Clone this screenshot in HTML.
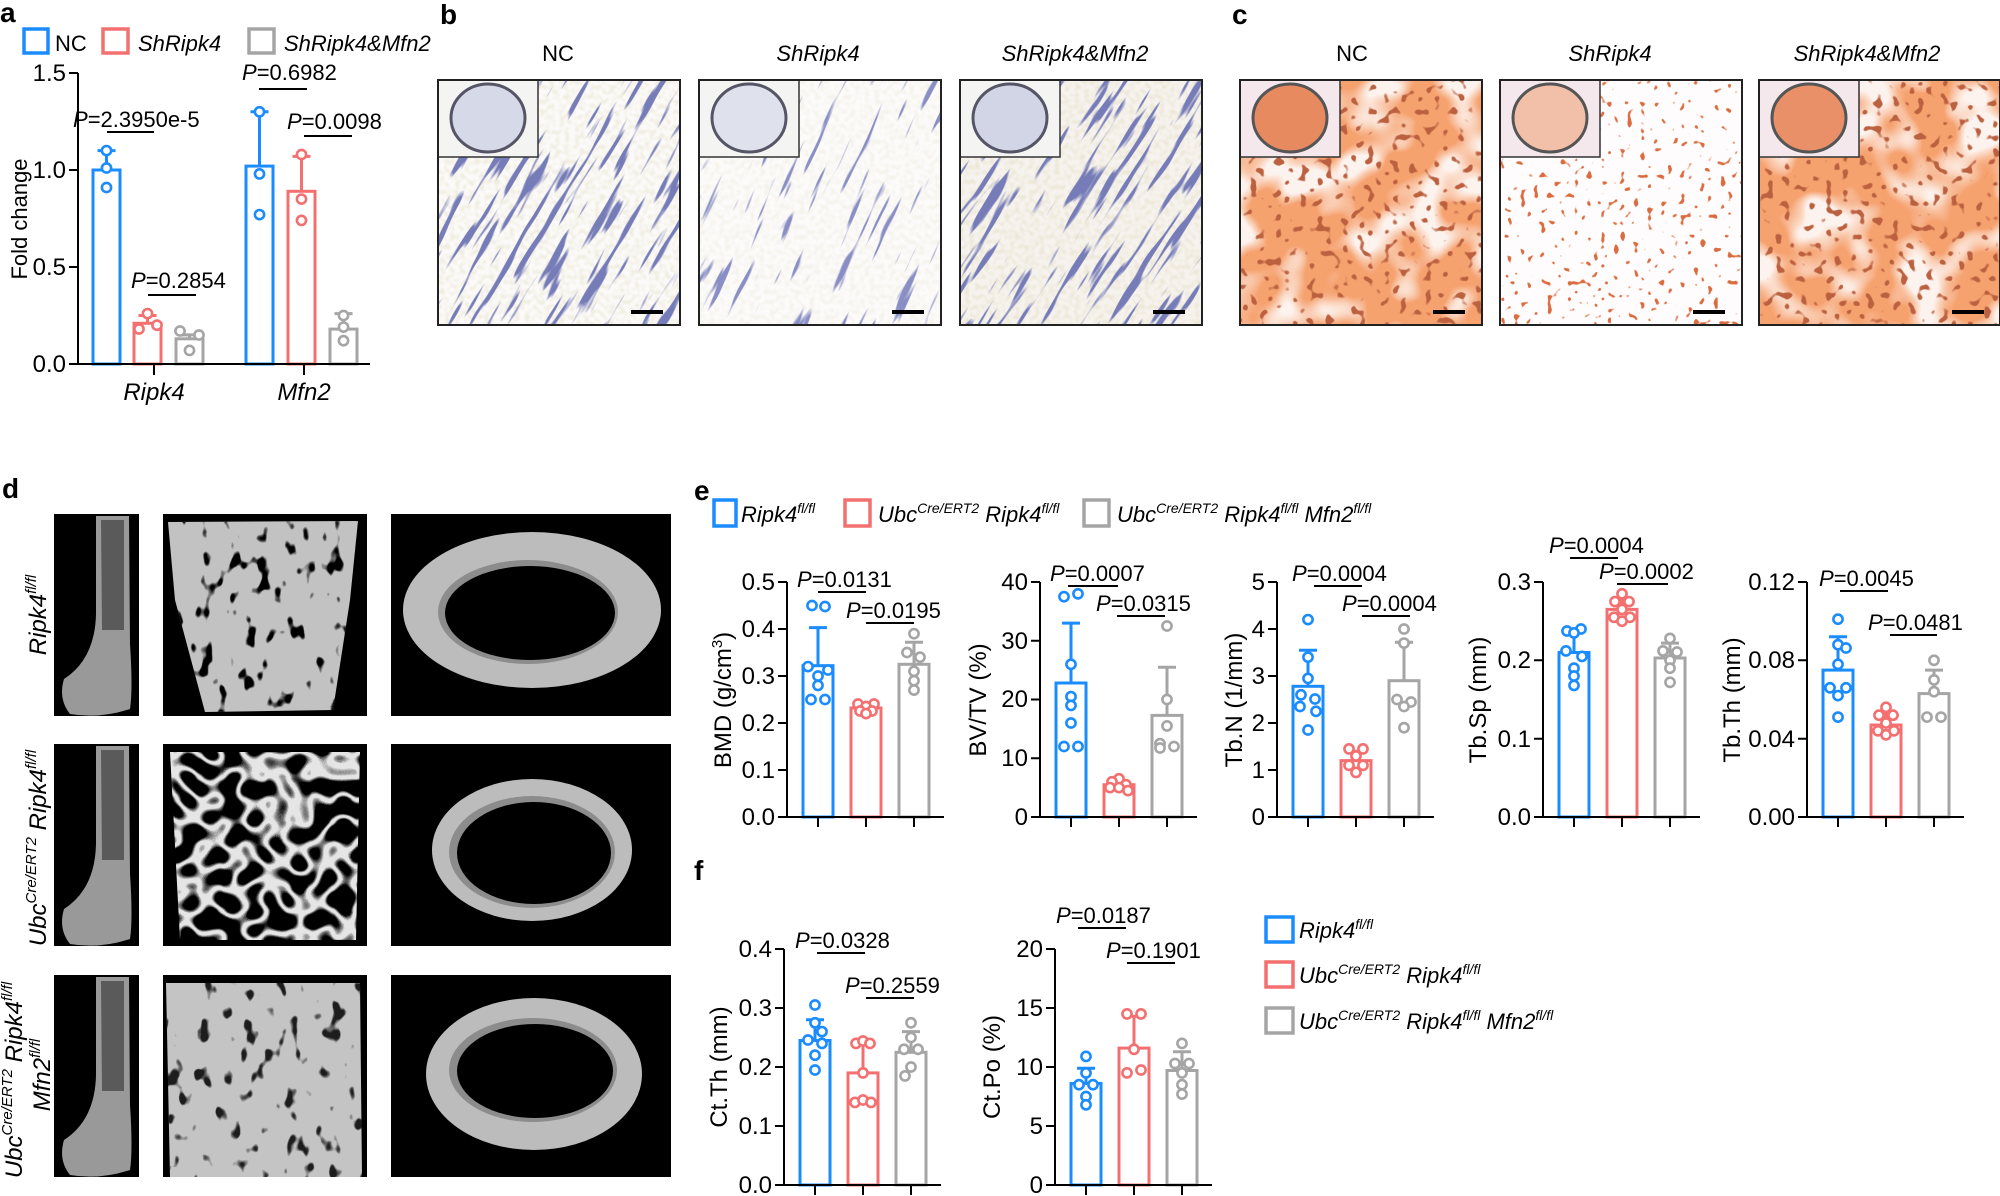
<!DOCTYPE html>
<html><head><meta charset="utf-8"><style>
html,body{margin:0;padding:0;background:#fff}
svg{display:block}
text{font-family:"Liberation Sans",Arial,sans-serif;fill:#000}
.it{font-style:italic}
.b{font-weight:bold}
.B{stroke:#1a8cff}.R{stroke:#f47070}.G{stroke:#a5a5a5}
.bar{fill:none;stroke-width:3}
.er{stroke-width:3}
.ax{stroke:#000;stroke-width:2;fill:none}
.d{fill:#fff;stroke-width:2.6}
</style></head><body>
<svg width="2000" height="1196" viewBox="0 0 2000 1196" xmlns="http://www.w3.org/2000/svg">
<defs>
<filter id="fb" x="0" y="0" width="100%" height="100%"><feTurbulence type="fractalNoise" baseFrequency="0.015 0.14" numOctaves="2" seed="3"/><feColorMatrix type="matrix" values="0 0 0 0 0.18 0 0 0 0 0.2 0 0 0 0 0.48 12 0 0 0 -6.9"/></filter>
<filter id="fbs" x="0" y="0" width="100%" height="100%"><feTurbulence type="fractalNoise" baseFrequency="0.015 0.14" numOctaves="2" seed="8"/><feColorMatrix type="matrix" values="0 0 0 0 0.25 0 0 0 0 0.27 0 0 0 0 0.55 12 0 0 0 -7.7"/></filter>
<filter id="fbg" x="0" y="0" width="100%" height="100%"><feTurbulence type="fractalNoise" baseFrequency="0.2" numOctaves="1" seed="5"/><feColorMatrix type="matrix" values="0 0 0 0 0.8 0 0 0 0 0.75 0 0 0 0 0.6 3 0 0 0 -1.2"/></filter>
<filter id="fo" x="0" y="0" width="100%" height="100%"><feTurbulence type="fractalNoise" baseFrequency="0.02" numOctaves="2" seed="11"/><feColorMatrix type="matrix" values="0 0 0 0 0.92 0 0 0 0 0.36 0 0 0 0 0.16 4.5 0 0 0 -1.5"/></filter>
<filter id="fd" x="0" y="0" width="100%" height="100%"><feTurbulence type="fractalNoise" baseFrequency="0.12" numOctaves="1" seed="4"/><feColorMatrix type="matrix" values="0 0 0 0 0.5 0 0 0 0 0.12 0 0 0 0 0.05 14 0 0 0 -8.4"/></filter>
<filter id="fds" x="0" y="0" width="100%" height="100%"><feTurbulence type="fractalNoise" baseFrequency="0.15" numOctaves="1" seed="9"/><feColorMatrix type="matrix" values="0 0 0 0 0.7 0 0 0 0 0.15 0 0 0 0 0.05 18 0 0 0 -11.6"/></filter>
<filter id="fh" x="0" y="0" width="100%" height="100%"><feTurbulence type="fractalNoise" baseFrequency="0.07 0.045" numOctaves="2" seed="2"/><feColorMatrix type="matrix" values="0 0 0 0 0 0 0 0 0 0 0 0 0 0 0 12 0 0 0 -7.4"/></filter>
<filter id="fn" x="0" y="0" width="100%" height="100%"><feTurbulence type="fractalNoise" baseFrequency="0.045" numOctaves="1" seed="6"/><feColorMatrix type="matrix" values="0 0 0 0 0.78 0 0 0 0 0.78 0 0 0 0 0.78 1 0 0 0 0"/><feComponentTransfer><feFuncA type="table" tableValues="0 0 0 0 0 0 0 1 1 0 0 0 0 0 0 0"/></feComponentTransfer></filter>
<clipPath id="t1"><polygon points="168,522 358,521 350,600 333,710 205,712 175,600"/></clipPath>
<clipPath id="t2"><polygon points="170,752 360,752 356,940 180,940"/></clipPath>
<clipPath id="t3"><polygon points="166,983 360,983 362,1177 170,1177"/></clipPath>
<clipPath id="cb1"><rect x="438" y="80" width="242" height="245"/></clipPath>
<clipPath id="cb2"><rect x="699" y="80" width="242" height="245"/></clipPath>
<clipPath id="cb3"><rect x="960" y="80" width="242" height="245"/></clipPath>
</defs>

<!-- panel letters -->
<text x="0" y="22" font-size="28" class="b">a</text>
<text x="440" y="24" font-size="28" class="b">b</text>
<text x="1232" y="24" font-size="28" class="b">c</text>
<text x="2" y="498" font-size="28" class="b">d</text>
<text x="694" y="500" font-size="28" class="b">e</text>
<text x="694" y="880" font-size="28" class="b">f</text>

<!-- panel a legend -->
<rect x="24" y="29" width="24" height="24" fill="none" stroke="#1a8cff" stroke-width="3.5"/>
<text x="55" y="51" font-size="22">NC</text>
<rect x="103" y="29" width="25" height="24" fill="none" stroke="#f47070" stroke-width="3.5"/>
<text x="138" y="51" font-size="22" class="it">ShRipk4</text>
<rect x="249" y="29" width="25" height="24" fill="none" stroke="#a5a5a5" stroke-width="3.5"/>
<text x="284" y="51" font-size="22" class="it">ShRipk4&amp;Mfn2</text>

<!-- panel a chart -->
<g>
<rect class="bar B" x="93" y="170" width="27" height="194"/>
<line class="er B" x1="106.5" y1="170" x2="106.5" y2="150.6"/><line class="er B" x1="97.5" y1="150.6" x2="115.5" y2="150.6"/>
<circle class="d B" cx="106.5" cy="150.6" r="4.6"/><circle class="d B" cx="106.5" cy="168" r="4.6"/><circle class="d B" cx="106.5" cy="187.5" r="4.6"/>
<rect class="bar R" x="134" y="323.3" width="27" height="40.7"/>
<line class="er R" x1="147.5" y1="323.3" x2="147.5" y2="315.5"/><line class="er R" x1="138.5" y1="315.5" x2="156.5" y2="315.5"/>
<circle class="d R" cx="139" cy="329" r="4.6"/><circle class="d R" cx="147.5" cy="313.6" r="4.6"/><circle class="d R" cx="157" cy="325.2" r="4.6"/>
<rect class="bar G" x="176" y="338.8" width="27" height="25.2"/>
<line class="er G" x1="189.5" y1="338.8" x2="189.5" y2="334.9"/><line class="er G" x1="180.5" y1="334.9" x2="198.5" y2="334.9"/>
<circle class="d G" cx="180" cy="331" r="4.6"/><circle class="d G" cx="199" cy="335" r="4.6"/><circle class="d G" cx="189.5" cy="350.4" r="4.6"/>
<rect class="bar B" x="246" y="166.1" width="27" height="197.9"/>
<line class="er B" x1="259.5" y1="166.1" x2="259.5" y2="111.8"/><line class="er B" x1="250.5" y1="111.8" x2="268.5" y2="111.8"/>
<circle class="d B" cx="259.5" cy="111.8" r="4.6"/><circle class="d B" cx="259.5" cy="173.9" r="4.6"/><circle class="d B" cx="259.5" cy="214.6" r="4.6"/>
<rect class="bar R" x="288" y="191.3" width="27" height="172.7"/>
<line class="er R" x1="301.5" y1="191.3" x2="301.5" y2="156.4"/><line class="er R" x1="292.5" y1="156.4" x2="310.5" y2="156.4"/>
<circle class="d R" cx="301.5" cy="154.5" r="4.6"/><circle class="d R" cx="301.5" cy="199.1" r="4.6"/><circle class="d R" cx="301.5" cy="220.4" r="4.6"/>
<rect class="bar G" x="330" y="329.1" width="27" height="34.9"/>
<line class="er G" x1="343.5" y1="329.1" x2="343.5" y2="313.6"/><line class="er G" x1="334.5" y1="313.6" x2="352.5" y2="313.6"/>
<circle class="d G" cx="343.5" cy="315.5" r="4.6"/><circle class="d G" cx="343.5" cy="327.1" r="4.6"/><circle class="d G" cx="343.5" cy="340.7" r="4.6"/>
<path class="ax" d="M78 73V364M69 364H370M154 364V375M304 364V375M69 73H78M69 170H78M69 267H78"/>
<g font-size="24" text-anchor="end"><text x="66" y="372">0.0</text><text x="66" y="275">0.5</text><text x="66" y="178">1.0</text><text x="66" y="81">1.5</text></g>
<text transform="translate(27,219) rotate(-90)" text-anchor="middle" font-size="22">Fold change</text>
<text x="154" y="400" font-size="24" text-anchor="middle" class="it">Ripk4</text>
<text x="304" y="400" font-size="24" text-anchor="middle" class="it">Mfn2</text>
<g font-size="22">
<text x="73" y="127"><tspan class="it">P</tspan>=2.3950e-5</text>
<text x="242" y="80"><tspan class="it">P</tspan>=0.6982</text>
<text x="287" y="129"><tspan class="it">P</tspan>=0.0098</text>
<text x="131" y="288"><tspan class="it">P</tspan>=0.2854</text>
</g>
<path class="ax" d="M107 132H154M259 89H307M304 136H352M148 295H196"/>
</g>

<!-- panel b/c titles -->
<g font-size="22" text-anchor="middle">
<text x="558" y="61">NC</text><text x="818" y="61" class="it">ShRipk4</text><text x="1075" y="61" class="it">ShRipk4&amp;Mfn2</text>
<text x="1352" y="61">NC</text><text x="1610" y="61" class="it">ShRipk4</text><text x="1867" y="61" class="it">ShRipk4&amp;Mfn2</text>
</g>

<!-- panel b images -->
<g>
<rect x="438" y="80" width="242" height="245" fill="#fbfaf8"/>
<rect x="438" y="80" width="242" height="245" filter="url(#fbg)" opacity="0.5"/>
<g clip-path="url(#cb1)"><rect x="380" y="20" width="360" height="360" filter="url(#fb)" transform="rotate(-60 559 202)"/></g>
<rect x="699" y="80" width="242" height="245" fill="#fcfbfa"/>
<rect x="699" y="80" width="242" height="245" filter="url(#fbg)" opacity="0.3"/>
<g clip-path="url(#cb2)"><rect x="640" y="20" width="360" height="360" filter="url(#fbs)" transform="rotate(-65 820 202)"/></g>
<rect x="960" y="80" width="242" height="245" fill="#f6f3ee"/>
<rect x="960" y="80" width="242" height="245" filter="url(#fbg)" opacity="0.6"/>
<g clip-path="url(#cb3)"><rect x="900" y="20" width="360" height="360" filter="url(#fb)" transform="rotate(-58 1081 202)"/></g>
</g>
<!-- panel c images -->
<g>
<rect x="1240" y="80" width="242" height="245" fill="#fdf3ee"/>
<rect x="1240" y="80" width="242" height="245" filter="url(#fo)"/>
<rect x="1240" y="80" width="242" height="245" filter="url(#fd)"/>
<rect x="1500" y="80" width="242" height="245" fill="#fefcfc"/>
<rect x="1500" y="80" width="242" height="245" filter="url(#fds)"/>
<rect x="1759" y="80" width="241" height="245" fill="#fdf3ee"/>
<rect x="1759" y="80" width="241" height="245" filter="url(#fo)"/>
<rect x="1759" y="80" width="241" height="245" filter="url(#fd)"/>
</g>
<!-- insets and frames -->
<g stroke="#333" stroke-width="1.5">
<rect x="438" y="80" width="100" height="77" fill="#f4f5f3"/><ellipse cx="488" cy="118" rx="37" ry="34" fill="#d6d9e8" stroke="#556" stroke-width="3"/>
<rect x="699" y="80" width="100" height="77" fill="#f4f5f3"/><ellipse cx="749" cy="118" rx="37" ry="34" fill="#dfe1ec" stroke="#556" stroke-width="3"/>
<rect x="960" y="80" width="100" height="77" fill="#f4f5f3"/><ellipse cx="1010" cy="118" rx="37" ry="34" fill="#d2d5e6" stroke="#556" stroke-width="3"/>
<rect x="1240" y="80" width="100" height="77" fill="#f4e8ec"/><ellipse cx="1290" cy="118" rx="37" ry="34" fill="#e88a60" stroke="#555" stroke-width="3"/>
<rect x="1500" y="80" width="100" height="77" fill="#f4e8ec"/><ellipse cx="1550" cy="118" rx="37" ry="34" fill="#f2c0a8" stroke="#555" stroke-width="3"/>
<rect x="1759" y="80" width="100" height="77" fill="#f4e8ec"/><ellipse cx="1809" cy="118" rx="37" ry="34" fill="#ea9068" stroke="#555" stroke-width="3"/>
</g>
<g fill="none" stroke="#222" stroke-width="2">
<rect x="438" y="80" width="242" height="245"/><rect x="699" y="80" width="242" height="245"/><rect x="960" y="80" width="242" height="245"/>
<rect x="1240" y="80" width="242" height="245"/><rect x="1500" y="80" width="242" height="245"/><rect x="1759" y="80" width="241" height="245"/>
</g>
<g fill="#000">
<rect x="631" y="310" width="32" height="4"/><rect x="892" y="310" width="32" height="4"/><rect x="1153" y="310" width="32" height="4"/>
<rect x="1433" y="310" width="32" height="4"/><rect x="1693" y="310" width="32" height="4"/><rect x="1952" y="310" width="32" height="4"/>
</g>

<!-- panel d -->
<g fill="#000">
<rect x="54" y="514" width="85" height="202"/><rect x="163" y="514" width="204" height="202"/><rect x="391" y="514" width="280" height="202"/>
<rect x="54" y="744" width="85" height="202"/><rect x="163" y="744" width="204" height="202"/><rect x="391" y="744" width="280" height="202"/>
<rect x="54" y="975" width="85" height="202"/><rect x="163" y="975" width="204" height="202"/><rect x="391" y="975" width="280" height="202"/>
</g>
<!-- femurs -->
<g>
<path d="M96 516 L129 516 L130 644 Q133 689 130 709 Q100 719 70 714 Q58 699 64 679 Q95 659 96 614 Z" fill="#999"/>
<path d="M101 520 L124 520 L124 630 L102 630 Z" fill="#5a5a5a"/>
<path d="M96 746 L129 746 L130 874 Q133 919 130 939 Q100 949 70 944 Q58 929 64 909 Q95 889 96 844 Z" fill="#999"/>
<path d="M101 750 L124 750 L124 860 L102 860 Z" fill="#5a5a5a"/>
<path d="M96 977 L129 977 L130 1105 Q133 1150 130 1170 Q100 1180 70 1175 Q58 1160 64 1140 Q95 1120 96 1075 Z" fill="#999"/>
<path d="M101 981 L124 981 L124 1091 L102 1091 Z" fill="#5a5a5a"/>
</g>
<!-- trabecular -->
<g clip-path="url(#t1)"><rect x="163" y="514" width="204" height="202" fill="#c2c2c2"/><rect x="163" y="514" width="204" height="202" filter="url(#fh)"/></g>
<g clip-path="url(#t2)"><rect x="163" y="744" width="204" height="202" filter="url(#fn)"/></g>
<g clip-path="url(#t3)"><rect x="163" y="975" width="204" height="202" fill="#c4c4c4"/><rect x="163" y="975" width="204" height="202" filter="url(#fh)" opacity="0.85"/></g>
<!-- cross sections -->
<g>
<ellipse cx="532" cy="610" rx="129" ry="78" fill="#bcbcbc"/><ellipse cx="528" cy="612" rx="90" ry="52" fill="#8c8c8c"/><ellipse cx="530" cy="613" rx="85" ry="47" fill="#000"/>
<ellipse cx="532" cy="850" rx="100" ry="71" fill="#bcbcbc"/><ellipse cx="532" cy="852" rx="83" ry="56" fill="#8c8c8c"/><ellipse cx="534" cy="853" rx="77" ry="51" fill="#000"/>
<ellipse cx="534" cy="1074" rx="108" ry="76" fill="#bcbcbc"/><ellipse cx="533" cy="1070" rx="84" ry="52" fill="#8c8c8c"/><ellipse cx="535" cy="1071" rx="78" ry="47" fill="#000"/>
</g>
<!-- d row labels -->
<g font-size="24" class="it">
<text transform="translate(46,615) rotate(-90)" text-anchor="middle">Ripk4<tspan font-size="15" dy="-10">fl/fl</tspan></text>
<text transform="translate(46,848) rotate(-90)" text-anchor="middle">Ubc<tspan font-size="15" dy="-10">Cre/ERT2</tspan><tspan dy="10"> Ripk4</tspan><tspan font-size="15" dy="-10">fl/fl</tspan></text>
<text transform="translate(22,1080) rotate(-90)" text-anchor="middle">Ubc<tspan font-size="15" dy="-10">Cre/ERT2</tspan><tspan dy="10"> Ripk4</tspan><tspan font-size="15" dy="-10">fl/fl</tspan></text>
<text transform="translate(50,1075) rotate(-90)" text-anchor="middle">Mfn2<tspan font-size="15" dy="-10">fl/fl</tspan></text>
</g>

<!-- e legend -->
<g font-size="22">
<rect x="714" y="500" width="22" height="26" fill="none" stroke="#1a8cff" stroke-width="3.5"/>
<text x="741" y="522" class="it">Ripk4<tspan font-size="14" dy="-9">fl/fl</tspan></text>
<rect x="845" y="500" width="25" height="26" fill="none" stroke="#f47070" stroke-width="3.5"/>
<text x="878" y="522" class="it">Ubc<tspan font-size="14" dy="-9">Cre/ERT2</tspan><tspan dy="9"> Ripk4</tspan><tspan font-size="14" dy="-9">fl/fl</tspan></text>
<rect x="1084" y="500" width="25" height="26" fill="none" stroke="#a5a5a5" stroke-width="3.5"/>
<text x="1117" y="522" class="it">Ubc<tspan font-size="14" dy="-9">Cre/ERT2</tspan><tspan dy="9"> Ripk4</tspan><tspan font-size="14" dy="-9">fl/fl</tspan><tspan dy="9"> Mfn2</tspan><tspan font-size="14" dy="-9">fl/fl</tspan></text>
</g>

<!-- BMD -->
<g>
<rect class="bar B" x="803" y="665.7" width="30" height="151.3"/><line class="er B" x1="818" y1="665.7" x2="818" y2="627.6"/><line class="er B" x1="809" y1="627.6" x2="827" y2="627.6"/>
<rect class="bar R" x="851" y="708" width="30" height="109"/><line class="er R" x1="866" y1="708" x2="866" y2="703.3"/><line class="er R" x1="857" y1="703.3" x2="875" y2="703.3"/>
<rect class="bar G" x="899" y="664.3" width="30" height="152.7"/><line class="er G" x1="914" y1="664.3" x2="914" y2="642.2"/><line class="er G" x1="905" y1="642.2" x2="923" y2="642.2"/>
<g class="B"><circle class="d" cx="812" cy="605.5" r="4.6"/><circle class="d" cx="825" cy="606.5" r="4.6"/><circle class="d" cx="808" cy="666.6" r="4.6"/><circle class="d" cx="828" cy="670" r="4.6"/><circle class="d" cx="818" cy="676" r="4.6"/><circle class="d" cx="818" cy="685.4" r="4.6"/><circle class="d" cx="811" cy="699.5" r="4.6"/><circle class="d" cx="825" cy="699.5" r="4.6"/></g>
<g class="R"><circle class="d" cx="858" cy="704" r="4.6"/><circle class="d" cx="874" cy="704" r="4.6"/><circle class="d" cx="866" cy="706.5" r="4.6"/><circle class="d" cx="860" cy="711" r="4.6"/><circle class="d" cx="872" cy="711" r="4.6"/><circle class="d" cx="866" cy="713.6" r="4.6"/></g>
<g class="G"><circle class="d" cx="914" cy="633.7" r="4.6"/><circle class="d" cx="907" cy="652.5" r="4.6"/><circle class="d" cx="920" cy="657.2" r="4.6"/><circle class="d" cx="914" cy="671.3" r="4.6"/><circle class="d" cx="914" cy="680.7" r="4.6"/><circle class="d" cx="914" cy="690.1" r="4.6"/></g>
<path class="ax" d="M787 582V817M778 817H944M818 817V827M866 817V827M914 817V827M778 770H787M778 723H787M778 676H787M778 629H787M778 582H787"/>
<g font-size="24" text-anchor="end"><text x="775" y="825">0.0</text><text x="775" y="778">0.1</text><text x="775" y="731">0.2</text><text x="775" y="684">0.3</text><text x="775" y="637">0.4</text><text x="775" y="590">0.5</text></g>
<text transform="translate(731,700) rotate(-90)" text-anchor="middle" font-size="24">BMD (g/cm<tspan font-size="15" dy="-9">3</tspan><tspan dy="9">)</tspan></text>
</g>
<!-- BV/TV -->
<g>
<rect class="bar B" x="1056" y="683" width="30" height="134"/><line class="er B" x1="1071" y1="683" x2="1071" y2="623.1"/><line class="er B" x1="1062" y1="623.1" x2="1080" y2="623.1"/>
<rect class="bar R" x="1104" y="784.7" width="30" height="32.3"/><line class="er R" x1="1119" y1="784.7" x2="1119" y2="780.6"/><line class="er R" x1="1110" y1="780.6" x2="1128" y2="780.6"/>
<rect class="bar G" x="1152" y="715.4" width="30" height="101.6"/><line class="er G" x1="1167" y1="715.4" x2="1167" y2="667.2"/><line class="er G" x1="1158" y1="667.2" x2="1176" y2="667.2"/>
<g class="B"><circle class="d" cx="1064" cy="596.7" r="4.6"/><circle class="d" cx="1078" cy="593.8" r="4.6"/><circle class="d" cx="1071" cy="664.3" r="4.6"/><circle class="d" cx="1071" cy="696.6" r="4.6"/><circle class="d" cx="1071" cy="705.4" r="4.6"/><circle class="d" cx="1071" cy="723" r="4.6"/><circle class="d" cx="1064" cy="746.5" r="4.6"/><circle class="d" cx="1078" cy="746.5" r="4.6"/></g>
<g class="R"><circle class="d" cx="1119" cy="778.8" r="4.6"/><circle class="d" cx="1112" cy="781.8" r="4.6"/><circle class="d" cx="1126" cy="784.7" r="4.6"/><circle class="d" cx="1110" cy="787.6" r="4.6"/><circle class="d" cx="1119" cy="787.6" r="4.6"/><circle class="d" cx="1128" cy="790.6" r="4.6"/></g>
<g class="G"><circle class="d" cx="1167" cy="626" r="4.6"/><circle class="d" cx="1167" cy="699.5" r="4.6"/><circle class="d" cx="1167" cy="725.9" r="4.6"/><circle class="d" cx="1160" cy="743.6" r="4.6"/><circle class="d" cx="1174" cy="746.5" r="4.6"/><circle class="d" cx="1160" cy="748" r="4.6"/></g>
<path class="ax" d="M1040 582V817M1031 817H1197M1071 817V827M1119 817V827M1167 817V827M1031 758.3H1040M1031 699.5H1040M1031 640.8H1040M1031 582H1040"/>
<g font-size="24" text-anchor="end"><text x="1028" y="825">0</text><text x="1028" y="766">10</text><text x="1028" y="707">20</text><text x="1028" y="649">30</text><text x="1028" y="590">40</text></g>
<text transform="translate(986,700) rotate(-90)" text-anchor="middle" font-size="24">BV/TV (%)</text>
</g>
<!-- Tb.N -->
<g>
<rect class="bar B" x="1293" y="686.3" width="30" height="130.7"/><line class="er B" x1="1308" y1="686.3" x2="1308" y2="650.2"/><line class="er B" x1="1299" y1="650.2" x2="1317" y2="650.2"/>
<rect class="bar R" x="1341" y="760.6" width="30" height="56.4"/><line class="er R" x1="1356" y1="760.6" x2="1356" y2="751.2"/><line class="er R" x1="1347" y1="751.2" x2="1365" y2="751.2"/>
<rect class="bar G" x="1389" y="680.7" width="30" height="136.3"/><line class="er G" x1="1404" y1="680.7" x2="1404" y2="642.2"/><line class="er G" x1="1395" y1="642.2" x2="1413" y2="642.2"/>
<g class="B"><circle class="d" cx="1308" cy="619.6" r="4.6"/><circle class="d" cx="1308" cy="657.2" r="4.6"/><circle class="d" cx="1308" cy="678.4" r="4.6"/><circle class="d" cx="1301" cy="694.8" r="4.6"/><circle class="d" cx="1315" cy="699" r="4.6"/><circle class="d" cx="1300" cy="706.5" r="4.6"/><circle class="d" cx="1316" cy="711.3" r="4.6"/><circle class="d" cx="1308" cy="730" r="4.6"/></g>
<g class="R"><circle class="d" cx="1349" cy="748.9" r="4.6"/><circle class="d" cx="1363" cy="748.9" r="4.6"/><circle class="d" cx="1356" cy="755.9" r="4.6"/><circle class="d" cx="1349" cy="765.3" r="4.6"/><circle class="d" cx="1363" cy="765.3" r="4.6"/><circle class="d" cx="1356" cy="772.4" r="4.6"/></g>
<g class="G"><circle class="d" cx="1404" cy="629" r="4.6"/><circle class="d" cx="1404" cy="643.1" r="4.6"/><circle class="d" cx="1397" cy="699.5" r="4.6"/><circle class="d" cx="1411" cy="702" r="4.6"/><circle class="d" cx="1404" cy="706.5" r="4.6"/><circle class="d" cx="1404" cy="727.7" r="4.6"/></g>
<path class="ax" d="M1277 582V817M1268 817H1434M1308 817V827M1356 817V827M1404 817V827M1268 770H1277M1268 723H1277M1268 676H1277M1268 629H1277M1268 582H1277"/>
<g font-size="24" text-anchor="end"><text x="1265" y="825">0</text><text x="1265" y="778">1</text><text x="1265" y="731">2</text><text x="1265" y="684">3</text><text x="1265" y="637">4</text><text x="1265" y="590">5</text></g>
<text transform="translate(1242,700) rotate(-90)" text-anchor="middle" font-size="24">Tb.N (1/mm)</text>
</g>
<!-- Tb.Sp -->
<g>
<rect class="bar B" x="1559" y="652.5" width="30" height="164.5"/><line class="er B" x1="1574" y1="652.5" x2="1574" y2="631.4"/><line class="er B" x1="1565" y1="631.4" x2="1583" y2="631.4"/>
<rect class="bar R" x="1607" y="609.4" width="30" height="207.6"/><line class="er R" x1="1622" y1="609.4" x2="1622" y2="597.7"/><line class="er R" x1="1613" y1="597.7" x2="1631" y2="597.7"/>
<rect class="bar G" x="1655" y="658" width="30" height="159"/><line class="er G" x1="1670" y1="658" x2="1670" y2="643.1"/><line class="er G" x1="1661" y1="643.1" x2="1679" y2="643.1"/>
<g class="B"><circle class="d" cx="1567" cy="631" r="4.6"/><circle class="d" cx="1581" cy="629" r="4.6"/><circle class="d" cx="1574" cy="632.9" r="4.6"/><circle class="d" cx="1566" cy="650.9" r="4.6"/><circle class="d" cx="1582" cy="656.4" r="4.6"/><circle class="d" cx="1574" cy="668.2" r="4.6"/><circle class="d" cx="1574" cy="676" r="4.6"/><circle class="d" cx="1574" cy="685.4" r="4.6"/></g>
<g class="R"><circle class="d" cx="1622" cy="593.8" r="4.6"/><circle class="d" cx="1615" cy="601.6" r="4.6"/><circle class="d" cx="1629" cy="601.6" r="4.6"/><circle class="d" cx="1622" cy="609.4" r="4.6"/><circle class="d" cx="1614" cy="617.3" r="4.6"/><circle class="d" cx="1630" cy="617.3" r="4.6"/><circle class="d" cx="1622" cy="621.2" r="4.6"/></g>
<g class="G"><circle class="d" cx="1670" cy="638.4" r="4.6"/><circle class="d" cx="1663" cy="650.9" r="4.6"/><circle class="d" cx="1677" cy="652" r="4.6"/><circle class="d" cx="1670" cy="660.3" r="4.6"/><circle class="d" cx="1670" cy="668.2" r="4.6"/><circle class="d" cx="1670" cy="682.3" r="4.6"/></g>
<path class="ax" d="M1543 582V817M1534 817H1700M1574 817V827M1622 817V827M1670 817V827M1534 738.7H1543M1534 660.3H1543M1534 582H1543"/>
<g font-size="24" text-anchor="end"><text x="1531" y="825">0.0</text><text x="1531" y="747">0.1</text><text x="1531" y="668">0.2</text><text x="1531" y="590">0.3</text></g>
<text transform="translate(1486,700) rotate(-90)" text-anchor="middle" font-size="24">Tb.Sp (mm)</text>
</g>
<!-- Tb.Th -->
<g>
<rect class="bar B" x="1823" y="670.1" width="30" height="146.9"/><line class="er B" x1="1838" y1="670.1" x2="1838" y2="636.8"/><line class="er B" x1="1829" y1="636.8" x2="1847" y2="636.8"/>
<rect class="bar R" x="1871" y="725" width="30" height="92"/><line class="er R" x1="1886" y1="725" x2="1886" y2="713.2"/><line class="er R" x1="1877" y1="713.2" x2="1895" y2="713.2"/>
<rect class="bar G" x="1919" y="693.6" width="30" height="123.4"/><line class="er G" x1="1934" y1="693.6" x2="1934" y2="670.1"/><line class="er G" x1="1925" y1="670.1" x2="1943" y2="670.1"/>
<g class="B"><circle class="d" cx="1838" cy="619.2" r="4.6"/><circle class="d" cx="1838" cy="644.7" r="4.6"/><circle class="d" cx="1846" cy="648" r="4.6"/><circle class="d" cx="1838" cy="664.3" r="4.6"/><circle class="d" cx="1830" cy="687.8" r="4.6"/><circle class="d" cx="1846" cy="687.8" r="4.6"/><circle class="d" cx="1838" cy="695.6" r="4.6"/><circle class="d" cx="1838" cy="717.1" r="4.6"/></g>
<g class="R"><circle class="d" cx="1886" cy="707.3" r="4.6"/><circle class="d" cx="1879" cy="715.2" r="4.6"/><circle class="d" cx="1893" cy="715.2" r="4.6"/><circle class="d" cx="1886" cy="723" r="4.6"/><circle class="d" cx="1878" cy="730.8" r="4.6"/><circle class="d" cx="1894" cy="730.8" r="4.6"/><circle class="d" cx="1886" cy="734.8" r="4.6"/></g>
<g class="G"><circle class="d" cx="1934" cy="660.3" r="4.6"/><circle class="d" cx="1934" cy="679.9" r="4.6"/><circle class="d" cx="1934" cy="691.7" r="4.6"/><circle class="d" cx="1927" cy="717.1" r="4.6"/><circle class="d" cx="1941" cy="717.1" r="4.6"/></g>
<path class="ax" d="M1807 582V817M1798 817H1964M1838 817V827M1886 817V827M1934 817V827M1798 738.7H1807M1798 660.3H1807M1798 582H1807"/>
<g font-size="24" text-anchor="end"><text x="1795" y="825">0.00</text><text x="1795" y="747">0.04</text><text x="1795" y="668">0.08</text><text x="1795" y="590">0.12</text></g>
<text transform="translate(1740,700) rotate(-90)" text-anchor="middle" font-size="24">Tb.Th (mm)</text>
</g>
<!-- e p-values -->
<g font-size="22">
<text x="797" y="587"><tspan class="it">P</tspan>=0.0131</text><text x="846" y="618"><tspan class="it">P</tspan>=0.0195</text>
<text x="1050" y="581"><tspan class="it">P</tspan>=0.0007</text><text x="1096" y="611"><tspan class="it">P</tspan>=0.0315</text>
<text x="1292" y="581"><tspan class="it">P</tspan>=0.0004</text><text x="1342" y="611"><tspan class="it">P</tspan>=0.0004</text>
<text x="1549" y="553"><tspan class="it">P</tspan>=0.0004</text><text x="1599" y="579"><tspan class="it">P</tspan>=0.0002</text>
<text x="1819" y="586"><tspan class="it">P</tspan>=0.0045</text><text x="1868" y="630"><tspan class="it">P</tspan>=0.0481</text>
</g>
<path class="ax" d="M818 592H866M866 623H914M1068 586H1118M1117 616H1165M1314 586H1362M1362 616H1410M1570 558H1618M1617 584H1668M1840 591H1888M1890 635H1937"/>

<!-- panel f: Ct.Th -->
<g>
<rect class="bar B" x="800" y="1040.5" width="30" height="144.5"/><line class="er B" x1="815" y1="1040.5" x2="815" y2="1019.8"/><line class="er B" x1="806" y1="1019.8" x2="824" y2="1019.8"/>
<rect class="bar R" x="848" y="1072.9" width="30" height="112.1"/><line class="er R" x1="863" y1="1072.9" x2="863" y2="1043.4"/><line class="er R" x1="854" y1="1043.4" x2="872" y2="1043.4"/>
<rect class="bar G" x="896" y="1052.3" width="30" height="132.7"/><line class="er G" x1="911" y1="1052.3" x2="911" y2="1031.6"/><line class="er G" x1="902" y1="1031.6" x2="920" y2="1031.6"/>
<g class="B"><circle class="d" cx="815" cy="1005" r="4.6"/><circle class="d" cx="815" cy="1022.8" r="4.6"/><circle class="d" cx="822" cy="1031.6" r="4.6"/><circle class="d" cx="808" cy="1040" r="4.6"/><circle class="d" cx="822" cy="1043.4" r="4.6"/><circle class="d" cx="815" cy="1055.2" r="4.6"/><circle class="d" cx="815" cy="1070" r="4.6"/></g>
<g class="R"><circle class="d" cx="856" cy="1043.4" r="4.6"/><circle class="d" cx="863" cy="1041" r="4.6"/><circle class="d" cx="870" cy="1043.4" r="4.6"/><circle class="d" cx="863" cy="1072.9" r="4.6"/><circle class="d" cx="855" cy="1102.4" r="4.6"/><circle class="d" cx="863" cy="1100" r="4.6"/><circle class="d" cx="871" cy="1102.4" r="4.6"/></g>
<g class="G"><circle class="d" cx="911" cy="1022.8" r="4.6"/><circle class="d" cx="911" cy="1037.5" r="4.6"/><circle class="d" cx="904" cy="1049.3" r="4.6"/><circle class="d" cx="918" cy="1049.3" r="4.6"/><circle class="d" cx="911" cy="1067" r="4.6"/><circle class="d" cx="905" cy="1075.9" r="4.6"/></g>
<path class="ax" d="M784 949V1185M775 1185H941M815 1185V1195M863 1185V1195M911 1185V1195M775 1126H784M775 1067H784M775 1008H784M775 949H784"/>
<g font-size="24" text-anchor="end"><text x="772" y="1193">0.0</text><text x="772" y="1134">0.1</text><text x="772" y="1075">0.2</text><text x="772" y="1016">0.3</text><text x="772" y="957">0.4</text></g>
<text transform="translate(727,1067) rotate(-90)" text-anchor="middle" font-size="24">Ct.Th (mm)</text>
</g>
<!-- Ct.Po -->
<g>
<rect class="bar B" x="1071" y="1083.5" width="30" height="101.5"/><line class="er B" x1="1086" y1="1083.5" x2="1086" y2="1068.2"/><line class="er B" x1="1077" y1="1068.2" x2="1095" y2="1068.2"/>
<rect class="bar R" x="1119" y="1048.1" width="30" height="136.9"/><line class="er R" x1="1134" y1="1048.1" x2="1134" y2="1016.3"/><line class="er R" x1="1125" y1="1016.3" x2="1143" y2="1016.3"/>
<rect class="bar G" x="1167" y="1070.5" width="30" height="114.5"/><line class="er G" x1="1182" y1="1070.5" x2="1182" y2="1051.7"/><line class="er G" x1="1173" y1="1051.7" x2="1191" y2="1051.7"/>
<g class="B"><circle class="d" cx="1086" cy="1056.4" r="4.6"/><circle class="d" cx="1086" cy="1072.9" r="4.6"/><circle class="d" cx="1079" cy="1084.7" r="4.6"/><circle class="d" cx="1093" cy="1084.7" r="4.6"/><circle class="d" cx="1086" cy="1096.5" r="4.6"/><circle class="d" cx="1086" cy="1104.8" r="4.6"/></g>
<g class="R"><circle class="d" cx="1127" cy="1013.9" r="4.6"/><circle class="d" cx="1141" cy="1013.9" r="4.6"/><circle class="d" cx="1134" cy="1049.3" r="4.6"/><circle class="d" cx="1127" cy="1072.9" r="4.6"/><circle class="d" cx="1141" cy="1070" r="4.6"/></g>
<g class="G"><circle class="d" cx="1182" cy="1043.4" r="4.6"/><circle class="d" cx="1175" cy="1063.5" r="4.6"/><circle class="d" cx="1189" cy="1063.5" r="4.6"/><circle class="d" cx="1182" cy="1072.9" r="4.6"/><circle class="d" cx="1182" cy="1084.7" r="4.6"/><circle class="d" cx="1182" cy="1094.1" r="4.6"/></g>
<path class="ax" d="M1055 949V1185M1046 1185H1212M1086 1185V1195M1134 1185V1195M1182 1185V1195M1046 1126H1055M1046 1067H1055M1046 1008H1055M1046 949H1055"/>
<g font-size="24" text-anchor="end"><text x="1043" y="1193">0</text><text x="1043" y="1134">5</text><text x="1043" y="1075">10</text><text x="1043" y="1016">15</text><text x="1043" y="957">20</text></g>
<text transform="translate(1000,1067) rotate(-90)" text-anchor="middle" font-size="24">Ct.Po (%)</text>
</g>
<g font-size="22">
<text x="795" y="948"><tspan class="it">P</tspan>=0.0328</text><text x="845" y="993"><tspan class="it">P</tspan>=0.2559</text>
<text x="1056" y="923"><tspan class="it">P</tspan>=0.0187</text><text x="1106" y="958"><tspan class="it">P</tspan>=0.1901</text>
</g>
<path class="ax" d="M817 953H865M866 998H914M1078 928H1126M1127 963H1175"/>

<!-- f legend -->
<g font-size="22">
<rect x="1266" y="917" width="27" height="25" fill="none" stroke="#1a8cff" stroke-width="3.5"/>
<text x="1299" y="938" class="it">Ripk4<tspan font-size="14" dy="-9">fl/fl</tspan></text>
<rect x="1266" y="962" width="27" height="25" fill="none" stroke="#f47070" stroke-width="3.5"/>
<text x="1299" y="983" class="it">Ubc<tspan font-size="14" dy="-9">Cre/ERT2</tspan><tspan dy="9"> Ripk4</tspan><tspan font-size="14" dy="-9">fl/fl</tspan></text>
<rect x="1266" y="1008" width="27" height="25" fill="none" stroke="#a5a5a5" stroke-width="3.5"/>
<text x="1299" y="1029" class="it">Ubc<tspan font-size="14" dy="-9">Cre/ERT2</tspan><tspan dy="9"> Ripk4</tspan><tspan font-size="14" dy="-9">fl/fl</tspan><tspan dy="9"> Mfn2</tspan><tspan font-size="14" dy="-9">fl/fl</tspan></text>
</g>
</svg>
</body></html>
